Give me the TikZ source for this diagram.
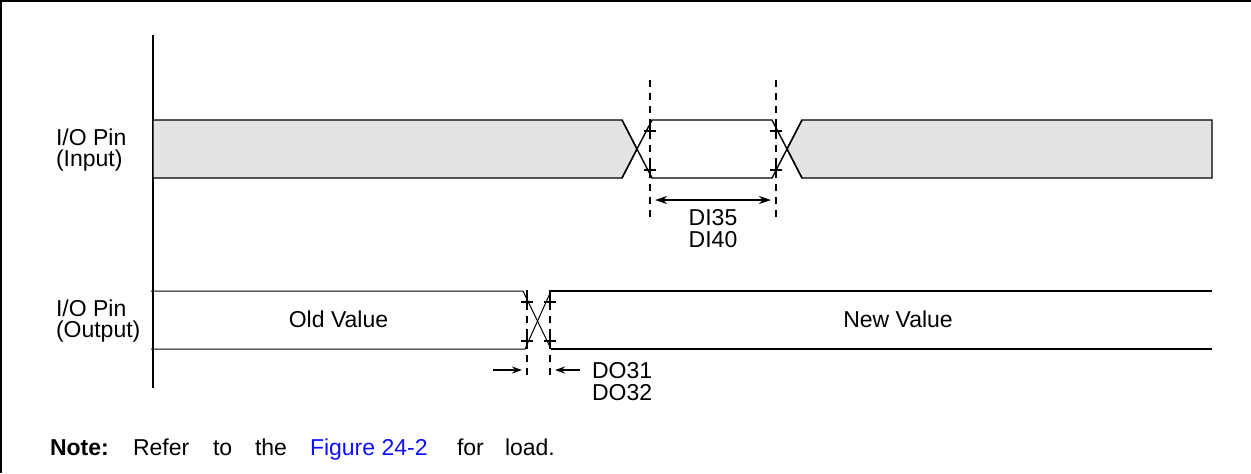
\documentclass[tikz,border=0pt]{standalone}
\usepackage{fontspec}
\setmainfont{Liberation Sans}
\usetikzlibrary{arrows.meta}
\definecolor{busgray}{HTML}{E4E4E4}
\definecolor{linkblue}{HTML}{1010FF}
\tikzset{
  lbl/.style={inner sep=0pt, outer sep=0pt, anchor=base west, font=\fontsize{11.5}{13.8}\selectfont},
  clbl/.style={lbl, anchor=base},
  frameline/.style={line width=1pt},
  sig/.style={line width=0.7pt, line join=miter},
  thin/.style={line width=0.5pt},
  guide/.style={line width=0.8pt, dash pattern=on 3.5pt off 3pt},
  tick/.style={line width=0.8pt},
  meas/.style={line width=1pt, {Stealth[length=6pt,width=4pt]}-{Stealth[length=6pt,width=4pt]}},
  measr/.style={line width=0.8pt, -{Stealth[length=5pt,width=3.5pt]}},
}
\newcommand{\plusmark}[2]{\draw[tick] (#1-6,#2) -- (#1+6,#2) (#1,#2-6) -- (#1,#2+6);}
\begin{document}
\begin{tikzpicture}[x=0.5pt,y=-0.5pt]
\useasboundingbox (0,0) rectangle (1251,473);
% frame (top and left visible)
\draw[frameline] (1,473) -- (1,1) -- (1251,1);
% time axis
\draw[line width=0.9pt] (153,35) -- (153,388);

% ---- Input bus ----
\filldraw[fill=busgray, sig] (153,178) -- (153,120) -- (622,120) -- (637,149) -- (622,178) -- cycle;
\filldraw[fill=busgray, sig] (1212,120) -- (802,120) -- (787,149) -- (802,178) -- (1212,178) -- cycle;
\draw[sig] (622,120) -- (652,178) -- (772,178) -- (802,120);
\draw[sig] (622,178) -- (652,120) -- (772,120) -- (802,178);
% guides
\coordinate (g1t) at (650,80); \coordinate (g1b) at (650,218);
\coordinate (g2t) at (776,80); \coordinate (g2b) at (776,218);
\draw[guide] (g1t) -- (g1b);
\draw[guide] (g2t) -- (g2b);
\plusmark{650}{131}\plusmark{650}{170}\plusmark{776}{131}\plusmark{776}{170}
\coordinate (dia) at (655,200); \coordinate (dib) at (771,200);
\draw[meas] (dia) -- (dib);
\node[clbl] (di35) at (713,225) {DI35};
\node[clbl] (di40) at (713,247) {DI40};

% ---- Output bus ----
\draw[thin] (151,291) -- (523,291) -- (551,349);
\draw[thin] (151,349) -- (525,349) -- (551,291);
\draw[sig] (551,291) -- (1212,291);
\draw[sig] (551,349) -- (1212,349);
\coordinate (g3t) at (527,290); \coordinate (g3b) at (527,378);
\coordinate (g4t) at (550,290); \coordinate (g4b) at (550,378);
\draw[guide] (g3t) -- (g3b);
\draw[guide] (g4t) -- (g4b);
\plusmark{527}{302}\plusmark{527}{341}\plusmark{550}{302}\plusmark{550}{341}
\coordinate (a1s) at (493,370); \coordinate (a1e) at (522,370);
\coordinate (a2s) at (580,370); \coordinate (a2e) at (555,370);
\draw[measr] (a1s) -- (a1e);
\draw[measr] (a2s) -- (a2e);
\node[lbl] (do31) at (592,378) {DO31};
\node[lbl] (do32) at (592,400) {DO32};
\node[clbl] (old) at (338.5,327) {Old Value};
\node[clbl] (new) at (898,327) {New Value};

% ---- signal labels ----
\node[lbl] (in1) at (56,145) {I/O Pin};
\node[lbl] (in2) at (56,166) {(Input)};
\node[lbl] (out1) at (56,316) {I/O Pin};
\node[lbl] (out2) at (56,337) {(Output)};

% ---- note ----
\node[lbl] (note) at (50,455) {\textbf{Note:}};
\node[lbl] (w1) at (133,455) {Refer};
\node[lbl] (w2) at (213,455) {to};
\node[lbl] (w3) at (255,455) {the};
\node[lbl, text=linkblue] (w4) at (310,455) {Figure 24-2};
\node[lbl] (w5) at (457,455) {for};
\node[lbl] (w6) at (505,455) {load.};
\end{tikzpicture}
\end{document}
